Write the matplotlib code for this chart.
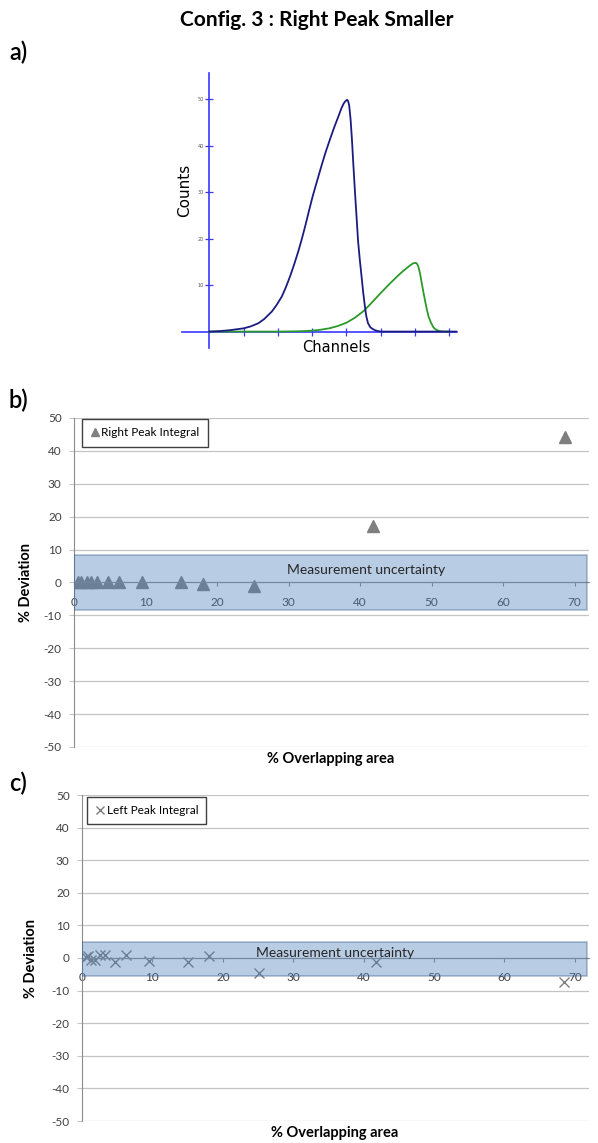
import matplotlib
matplotlib.use("Agg")
import matplotlib.pyplot as plt

plt.rcParams["axes.unicode_minus"] = False

# --- panel a : the two peaks ---
left_x = [0.0, 0.3, 0.6, 0.8, 1.0, 1.2, 1.43, 1.6, 1.82, 1.95, 2.11, 2.23, 2.36,
          2.48, 2.6, 2.7, 2.8, 2.9, 3.01, 3.15, 3.28, 3.4, 3.53, 3.65, 3.77,
          3.85, 3.92, 3.97, 4.02, 4.05, 4.08, 4.12, 4.16, 4.2, 4.25, 4.3, 4.34,
          4.39, 4.44, 4.49, 4.54, 4.58, 4.63, 4.7, 4.78, 4.85, 4.93, 5.0, 7.2]
left_y = [0.0, 0.1, 0.3, 0.5, 0.7, 1.1, 1.8, 2.7, 4.3, 5.6, 7.5, 9.5, 12.0,
          14.6, 17.4, 20.0, 22.8, 25.8, 29.0, 32.6, 35.9, 38.8, 41.6, 44.1, 46.4,
          48.0, 49.1, 49.6, 49.9, 49.6, 48.7, 45.8, 41.5, 36.2, 30.0, 24.2, 19.5,
          15.5, 12.0, 8.4, 5.4, 3.3, 1.8, 0.9, 0.5, 0.25, 0.1, 0.0, 0.0]
right_x = [0.0, 2.0, 2.5, 2.8, 3.0, 3.25, 3.5, 3.75, 4.0, 4.25, 4.5, 4.75, 5.0,
           5.25, 5.5, 5.65, 5.75, 5.85, 5.95, 6.03, 6.07, 6.1, 6.15, 6.2, 6.25,
           6.3, 6.35, 6.4, 6.47, 6.54, 6.6, 6.68, 6.75, 6.83, 7.0]
right_y = [0.0, 0.0, 0.05, 0.12, 0.2, 0.4, 0.7, 1.2, 1.9, 3.0, 4.4, 6.3, 8.3,
           10.2, 12.0, 13.0, 13.6, 14.2, 14.7, 14.8, 14.5, 14.0, 12.5, 10.4, 8.4,
           6.5, 4.7, 3.2, 1.9, 0.9, 0.5, 0.2, 0.07, 0.0, 0.0]

# --- panels b and c : % deviation vs % overlapping area ---
overlap_b = [0.5, 1.0, 1.8, 2.4, 3.2, 4.7, 6.3, 9.5, 15.0, 18.1, 25.2, 41.8, 68.6]
dev_right = [0.0, 0.0, 0.0, 0.0, 0.0, 0.0, 0.0, 0.0, 0.0, -0.5, -1.0, 17.2, 44.3]
overlap_c = [0.5, 0.9, 1.3, 1.9, 2.5, 3.2, 4.7, 6.3, 9.5, 15.0, 18.1, 25.2, 41.8, 68.5]
dev_left = [0.3, 0.5, -0.6, -0.6, 0.8, 0.8, -1.3, 0.8, -0.8, -1.3, 0.7, -4.6, -1.3, -7.4]
band_b = (-8.3, 8.3)
band_c = (-5.5, 4.9)

W, H = 598, 1143
fig = plt.figure(figsize=(W / 100, H / 100), dpi=100)


def box(l, t, r, b):
    return [l / W, 1 - b / H, (r - l) / W, (b - t) / H]


fig.text(317 / W, 1 - 20 / H, "Config. 3 : Right Peak Smaller", family="Lato",
         fontweight="bold", fontsize=15, ha="center", va="center")
for lab, yy in [("a)", 52), ("b)", 400), ("c)", 783)]:
    fig.text(9 / W, 1 - yy / H, lab, family="Lato", fontweight="semibold",
             fontsize=17, ha="left", va="center")

# panel a
ax = fig.add_axes(box(181.7, 73.3, 456.7, 348.3))
ax.plot(right_x, right_y, color="#2a9a2a", lw=1.3, zorder=3)
ax.plot(left_x, left_y, color="#1c1c80", lw=1.3, zorder=4)
ax.set_xlim(-0.81, 7.22)
ax.set_ylim(-3.6, 55.6)
for s in ["top", "right"]:
    ax.spines[s].set_visible(False)
for s in ["left", "bottom"]:
    ax.spines[s].set_position(("data", 0))
    ax.spines[s].set_color("#3838ff")
    ax.spines[s].set_linewidth(1.2)
ax.set_xticks(range(1, 8))
ax.set_xticklabels([])
ax.set_yticks(range(10, 51, 10))
ax.tick_params(direction="inout", length=5.5, width=0.9, color="#3838ff")
ax.tick_params(axis="y", labelsize=3.5, labelcolor="#555555", pad=1.5)
ax.patch.set_alpha(0)
fig.text(185 / W, 1 - 190 / H, "Counts", rotation=90, fontsize=11,
         ha="center", va="center")
fig.text(336 / W, 1 - 347 / H, "Channels", fontsize=10.5, ha="center", va="center")


def deviation_panel(rect, xs, ys, band, marker, label, txt_pos, leg_pos):
    ax = fig.add_axes(rect)
    if marker == "^":
        ax.plot(xs, ys, ls="none", marker="^", ms=8, color="#7f7f7f",
                mec="#7f7f7f", label=label, zorder=2)
    else:
        ax.plot(xs, ys, ls="none", marker="x", ms=7.5, mew=1.0, color="#7f7f7f",
                label=label, zorder=2)
    ax.axhspan(band[0], band[1], xmin=0, xmax=0.997, facecolor="#4f81bd",
               alpha=0.4, edgecolor="#2f5482", lw=1.1, zorder=3)
    ax.text(txt_pos[0], txt_pos[1], "Measurement uncertainty", family="Lato",
            fontsize=10, color="#262626", ha="center", va="center", zorder=4)
    ax.set_xlim(0, 72)
    ax.set_ylim(-50, 50)
    ax.set_yticks(range(-50, 51, 10))
    ax.set_xticks(range(0, 71, 10))
    ax.grid(axis="y", color="#c4c4c4", lw=0.9)
    ax.set_axisbelow(True)
    for s in ["top", "right"]:
        ax.spines[s].set_visible(False)
    ax.spines["left"].set_color("#8c8c8c")
    ax.spines["bottom"].set_position(("data", 0))
    ax.spines["bottom"].set_color("#8c8c8c")
    ax.tick_params(axis="x", direction="out", length=2.9, color="#8c8c8c",
                   pad=7.5, labelsize=8.5, labelcolor="#404040")
    ax.tick_params(axis="y", direction="out", length=3.6, color="#c4c4c4",
                   pad=5.3, labelsize=8.5, labelcolor="#404040")
    for t in ax.get_xticklabels() + ax.get_yticklabels():
        t.set_family("Lato")
    leg = ax.legend(loc="upper left", bbox_to_anchor=leg_pos, fancybox=False,
                    edgecolor="#404040", framealpha=1, prop={"family": "Lato", "size": 8.5},
                    handlelength=0.8, handletextpad=0.15, borderpad=0.7,
                    borderaxespad=0, markerscale=0.7)
    leg.get_frame().set_linewidth(1.0)
    return ax


axb = deviation_panel(box(74, 418, 589, 747), overlap_b, dev_right, band_b, "^",
                      "Right Peak Integral", (40.8, 3.8), (0.015, 0.997))
fig.text(331 / W, 1 - 759 / H, "% Overlapping area", family="Lato",
         fontweight="bold", fontsize=10.5, ha="center", va="center")
fig.text(26 / W, 1 - 582 / H, "% Deviation", family="Lato", fontweight="bold",
         fontsize=10.5, rotation=90, ha="center", va="center")

axc = deviation_panel(box(82, 795, 589, 1121), overlap_c, dev_left, band_c, "x",
                      "Left Peak Integral", (35.9, 1.5), (0.01, 0.994))
fig.text(335 / W, 1 - 1133 / H, "% Overlapping area", family="Lato",
         fontweight="bold", fontsize=10.5, ha="center", va="center")
fig.text(31 / W, 1 - 958 / H, "% Deviation", family="Lato", fontweight="bold",
         fontsize=10.5, rotation=90, ha="center", va="center")

fig.savefig("out.png", dpi=100)
